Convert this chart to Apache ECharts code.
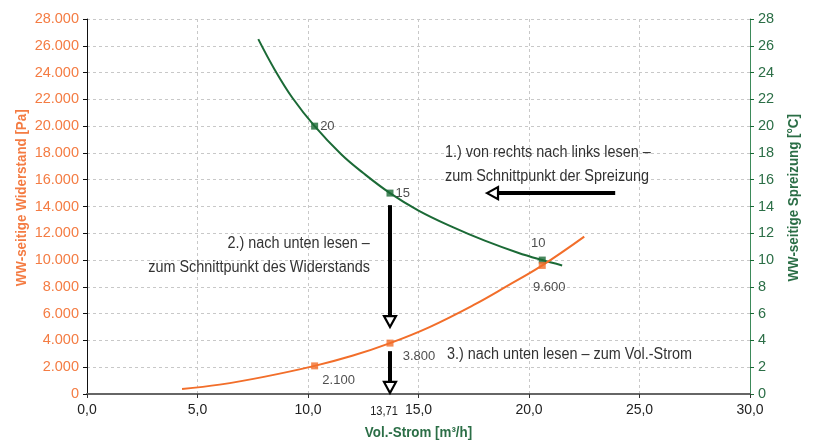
<!DOCTYPE html>
<html><head><meta charset="utf-8">
<script src="https://cdn.jsdelivr.net/npm/echarts@6/dist/echarts.min.js"></script>
<style>html,body{margin:0;padding:0;background:#fff}#c{width:814px;height:444px}</style>
</head><body><div id="c"></div>
<script>
// Curves
const spreizX = [7.75, 8.5, 9.3, 10.3, 11.5, 12.5, 13.71, 15.0, 16.5, 18.0, 19.5, 20.6, 21.5];
const spreizY = [26.5, 24.2, 22.1, 20.0, 17.9, 16.5, 15.0, 13.7, 12.5, 11.45, 10.55, 10.0, 9.6];
const widerX = [4.3, 6.0, 8.0, 10.3, 12.0, 13.71, 15.5, 17.5, 19.0, 20.6, 22.5];
const widerY = [370, 700, 1280, 2100, 2850, 3800, 5000, 6650, 8050, 9600, 11750];
// Marked points
const spreizPtX = [10.3, 13.71, 20.6];
const spreizPtY = [20, 15, 10];
const spreizPtLbl = ['20', '15', '10'];
const widerPtX = [10.3, 13.71, 20.6];
const widerPtY = [2100, 3800, 9600];
const widerPtLbl = ['2.100', '3.800', '9.600'];
// Arrows [x1, y1, x2, y2]
const arrowsPa = [[13.71, 14100, 13.71, 5000], [13.71, 3200, 13.71, 80]];
const arrowsC = [[23.9, 15, 18.1, 15]];
// Notes (x in m3/h, y in right-axis units)
const noteX = [16.2, 12.8, 16.29];
const noteY = [17.11, 10.34, 2.91];
const noteText = ['1.) von rechts nach links lesen –\nzum Schnittpunkt der Spreizung',
                  '2.) nach unten lesen –\nzum Schnittpunkt des Widerstands',
                  '3.) nach unten lesen – zum Vol.-Strom'];
const noteAlign = ['left', 'right', 'left'];
const readX = 13.71, readLbl = '13,71';
// Axis titles: text, anchor (x in m3/h, y in right-axis units)
const titleText = ['WW-seitige Widerstand [Pa]', 'WW-seitige Spreizung [°C]', 'Vol.-Strom [m³/h]'];
const titleX = [-2.94, 32.0, 15.0];
const titleY = [14.65, 14.65, -2.9];

const ORANGE = '#F26E2A', ORANGE_T = '#F47C43', GREEN = '#1B6A36', GREEN_T = '#2B6E46';
const SANS = '"Liberation Sans",Arial,sans-serif';

function arrowItem(params, api) {
  const p1 = api.coord([api.value(0), api.value(1)]);
  const p2 = api.coord([api.value(2), api.value(3)]);
  const dx = p2[0] - p1[0], dy = p2[1] - p1[1];
  const L = Math.hypot(dx, dy), ux = dx / L, uy = dy / L, px = -uy, py = ux;
  const hl = 11, hw = 6;
  const bx = p2[0] - ux * hl, by = p2[1] - uy * hl;
  return {type: 'group', children: [
    {type: 'line', shape: {x1: p1[0], y1: p1[1], x2: bx, y2: by}, style: {stroke: '#000', lineWidth: 4}},
    {type: 'polygon', shape: {points: [[p2[0], p2[1]], [bx + px * hw, by + py * hw], [bx - px * hw, by - py * hw]]},
     style: {fill: '#fff', stroke: '#000', lineWidth: 2.2}}
  ]};
}

const chart = echarts.init(document.getElementById('c'), null, {renderer: 'canvas'});
chart.setOption({
  animation: false,
  backgroundColor: '#fff',
  grid: {left: 87, right: 64, top: 19, bottom: 50},
  xAxis: {
    type: 'value', min: 0, max: 30, interval: 5,
    axisLine: {show: true, lineStyle: {color: '#666', width: 2}},
    axisTick: {show: true, length: 4, lineStyle: {color: '#333'}},
    axisLabel: {color: '#222', fontFamily: SANS, fontSize: 14, margin: 9,
      formatter: v => v.toFixed(1).replace('.', ',')},
    splitLine: {show: true, lineStyle: {color: '#c8c8c8', type: [3, 3]}}
  },
  yAxis: [{
    type: 'value', min: 0, max: 28000, interval: 2000,
    axisLine: {show: true, lineStyle: {color: '#111', width: 1}},
    axisTick: {show: true, length: 4, lineStyle: {color: '#111'}},
    axisLabel: {color: ORANGE_T, fontFamily: SANS, fontSize: 14.5, margin: 8,
      formatter: v => v === 0 ? '0' : (v / 1000).toFixed(0) + '.000'},
    splitLine: {show: true, lineStyle: {color: '#c8c8c8', type: [3, 3]}}
  }, {
    type: 'value', min: 0, max: 28, interval: 2, position: 'right',
    axisLine: {show: true, lineStyle: {color: '#3d8a5a', width: 1}},
    axisTick: {show: true, length: 4, lineStyle: {color: GREEN}},
    axisLabel: {color: GREEN_T, fontFamily: SANS, fontSize: 14.5, margin: 8},
    splitLine: {show: false}
  }],
  series: [
    {type: 'line', yAxisIndex: 1, smooth: 0.4, symbol: 'none',
     lineStyle: {color: GREEN, width: 2}, data: spreizX.map((x, i) => [x, spreizY[i]]), z: 3},
    {type: 'line', yAxisIndex: 0, smooth: 0.4, symbol: 'none',
     lineStyle: {color: ORANGE, width: 2}, data: widerX.map((x, i) => [x, widerY[i]]), z: 4},
    {type: 'scatter', yAxisIndex: 1, symbol: 'rect', symbolSize: 7, itemStyle: {color: GREEN}, z: 5,
     label: {show: true, color: '#222', fontFamily: SANS, fontSize: 13,
       formatter: p => spreizPtLbl[p.dataIndex]},
     data: spreizPtX.map((x, i) => ({value: [x, spreizPtY[i]],
       label: i < 2 ? {position: 'right', distance: 2} : {position: 'top', distance: 7, offset: [-4, 0]}}))},
    {type: 'scatter', yAxisIndex: 0, symbol: 'rect', symbolSize: 7, itemStyle: {color: ORANGE}, z: 6,
     label: {show: true, color: '#222', fontFamily: SANS, fontSize: 13,
       formatter: p => widerPtLbl[p.dataIndex]},
     data: widerPtX.map((x, i) => ({value: [x, widerPtY[i]],
       label: i === 0 ? {position: 'inside', offset: [24, 15]} :
              i === 1 ? {position: 'inside', offset: [29, 13]} : {position: 'inside', offset: [7, 22]}}))},
    {type: 'custom', yAxisIndex: 0, renderItem: arrowItem, clip: false, z: 7,
     encode: {x: [0, 2], y: [1, 3]}, data: arrowsPa},
    {type: 'custom', yAxisIndex: 1, renderItem: arrowItem, clip: false, z: 7,
     encode: {x: [0, 2], y: [1, 3]}, data: arrowsC},
    {type: 'custom', yAxisIndex: 1, clip: false, z: 8,
     encode: {x: 0, y: 1},
     data: noteX.map((x, i) => [x, noteY[i]]),
     renderItem: (params, api) => {
       const p = api.coord([api.value(0), api.value(1)]);
       const i = params.dataIndex;
       return {type: 'text', x: p[0], y: p[1], scaleX: 0.9, style: {
         text: noteText[i], align: noteAlign[i], verticalAlign: 'middle',
         fontFamily: SANS, fontSize: 16, lineHeight: 24, fill: '#333'}};
     }},
    {type: 'custom', yAxisIndex: 1, clip: false, z: 8,
     encode: {x: 0, y: 1}, data: [[readX, 0]],
     renderItem: (params, api) => {
       const p = api.coord([api.value(0), api.value(1)]);
       return {type: 'text', x: p[0] - 6, y: p[1] + 17, scaleX: 0.85, style: {
         text: readLbl, align: 'center', verticalAlign: 'middle',
         fontFamily: SANS, fontSize: 13, fill: '#222'}};
     }},
    {type: 'custom', yAxisIndex: 1, clip: false, z: 8,
     encode: {x: 0, y: 1}, data: titleX.map((x, i) => [x, titleY[i]]),
     renderItem: (params, api) => {
       const p = api.coord([api.value(0), api.value(1)]);
       const i = params.dataIndex;
       return {type: 'text', x: p[0], y: p[1], scaleX: 0.89, rotation: i < 2 ? Math.PI / 2 : 0, style: {
         text: titleText[i], align: 'center', verticalAlign: 'middle',
         fontFamily: SANS, fontWeight: 'bold', fontSize: 15, fill: i === 0 ? ORANGE_T : GREEN_T}};
     }}
  ]
});
</script></body></html>
